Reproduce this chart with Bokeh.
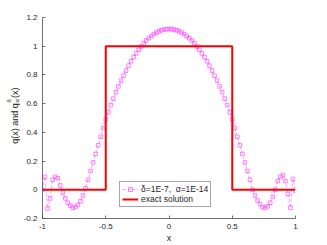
import numpy as np
from bokeh.plotting import figure
from bokeh.models import Legend, LegendItem, FixedTicker, Range1d
from bokeh.layouts import row
from bokeh.core.properties import value
from bokeh.embed import file_html
from bokeh.resources import INLINE

# ---- data ----
x_reg = [-1.00, -0.98, -0.96, -0.94, -0.92, -0.90, -0.88, -0.86, -0.84, -0.82,
         -0.80, -0.78, -0.76, -0.74, -0.72, -0.70, -0.68, -0.66, -0.64, -0.62,
         -0.60, -0.58, -0.56, -0.54, -0.52, -0.50, -0.48, -0.46, -0.44, -0.42,
         -0.40, -0.38, -0.36, -0.34, -0.32, -0.30, -0.28, -0.26, -0.24, -0.22,
         -0.20, -0.18, -0.16, -0.14, -0.12, -0.10, -0.08, -0.06, -0.04, -0.02,
         0.00, 0.02, 0.04, 0.06, 0.08, 0.10, 0.12, 0.14, 0.16, 0.18,
         0.20, 0.22, 0.24, 0.26, 0.28, 0.30, 0.32, 0.34, 0.36, 0.38,
         0.40, 0.42, 0.44, 0.46, 0.48, 0.50, 0.52, 0.54, 0.56, 0.58,
         0.60, 0.62, 0.64, 0.66, 0.68, 0.70, 0.72, 0.74, 0.76, 0.78,
         0.80, 0.82, 0.84, 0.86, 0.88, 0.90, 0.92, 0.94, 0.96, 0.98, 1.00]
y_reg = [0.00, 0.09, -0.13, -0.06, 0.07, 0.09, 0.08, 0.03, -0.02, -0.06,
         -0.09, -0.11, -0.125, -0.12, -0.105, -0.08, -0.04, 0.01, 0.07, 0.13,
         0.19, 0.25, 0.31, 0.37, 0.43, 0.49, 0.54, 0.59, 0.635, 0.68,
         0.72, 0.76, 0.795, 0.83, 0.865, 0.895, 0.925, 0.95, 0.975, 0.998,
         1.02, 1.04, 1.056, 1.071, 1.084, 1.095, 1.104, 1.111, 1.116, 1.119,
         1.12, 1.119, 1.116, 1.111, 1.104, 1.095, 1.084, 1.071, 1.056, 1.04,
         1.02, 0.998, 0.975, 0.95, 0.925, 0.895, 0.865, 0.83, 0.795, 0.76,
         0.72, 0.68, 0.635, 0.59, 0.54, 0.49, 0.43, 0.37, 0.31, 0.25,
         0.19, 0.13, 0.07, 0.00, -0.04, -0.075, -0.10, -0.12, -0.126, -0.115,
         -0.09, -0.05, 0.00, 0.06, 0.09, 0.10, 0.06, -0.03, -0.125, 0.075, -0.01]

x_exact = [-1.0, -0.5, -0.5, 0.5, 0.5, 1.0]
y_exact = [0.0, 0.0, 1.0, 1.0, 0.0, 0.0]

x_ticks = [-1, -0.5, 0, 0.5, 1]
x_tick_labels = ["-1", "-0.5", "0", "0.5", "1"]
y_ticks = [-0.2, 0, 0.2, 0.4, 0.6, 0.8, 1, 1.2]
y_tick_labels = ["-0.2", "0", "0.2", "0.4", "0.6", "0.8", "1", "1.2"]

reg_label = "\u03b4=1E-7,  \u03b1=1E-14"
exact_label = "exact solution"
x_label = "x"
# y label pieces: q(x) and q_alpha^delta(x)
ylab_head = ["q(x) and q"]
ylab_tail = ["(x)"]
ylab_sup = ["\u03b4"]
ylab_sub = ["\u03b1"]

FONT = "Liberation Sans"
TXT = "#262626"
LEFT_W = 20

# ---- narrow panel holding the composed y-axis label ----
lab = figure(width=LEFT_W, height=245, x_range=Range1d(0, LEFT_W), y_range=Range1d(245, 0),
             output_backend="svg", toolbar_location=None, title=None,
             min_border=0, min_border_left=0, min_border_right=0,
             min_border_top=0, min_border_bottom=0)
lab.axis.visible = False
lab.grid.visible = False
lab.outline_line_color = None
lab.background_fill_color = "white"
lab.border_fill_color = "white"
tk = dict(angle=np.pi / 2, text_font=value(FONT), text_color=TXT, text_baseline="middle")
lab.text(x=[14.0], y=[104.5], text=ylab_head, text_font_size="9px", text_align="right", **tk)
lab.text(x=[8.3], y=[103.5], text=ylab_sup, text_font_size="6px", text_align="left", **tk)
lab.text(x=[16.2], y=[103.5], text=ylab_sub, text_font_size="6px", text_align="left", **tk)
lab.text(x=[14.0], y=[98], text=ylab_tail, text_font_size="9px", text_align="left", **tk)

# ---- main plot ----
p = figure(width=327 - LEFT_W, height=245, x_range=(-1, 1), y_range=(-0.2, 1.2),
           output_backend="svg", toolbar_location=None, title=None,
           min_border_left=42 - LEFT_W, min_border_right=32, min_border_top=17,
           min_border_bottom=27)
p.outline_line_color = None
p.grid.visible = False
p.background_fill_color = "white"
p.border_fill_color = "white"

for ax in (p.xaxis[0], p.yaxis[0]):
    ax.axis_line_color = "#4d4d4d"
    ax.axis_line_width = 0.8
    ax.major_tick_line_color = "#4d4d4d"
    ax.major_tick_line_width = 0.8
    ax.major_tick_in = 3
    ax.major_tick_out = 0
    ax.minor_tick_line_color = None
    ax.major_label_text_font = FONT
    ax.major_label_text_font_size = "8px"
    ax.major_label_text_color = TXT
    ax.major_label_standoff = 5

p.xaxis[0].ticker = FixedTicker(ticks=x_ticks)
p.xaxis[0].major_label_overrides = {float(t): l for t, l in zip(x_ticks, x_tick_labels)}
p.yaxis[0].ticker = FixedTicker(ticks=y_ticks)
p.yaxis[0].major_label_overrides = {float(t): l for t, l in zip(y_ticks, y_tick_labels)}
p.xaxis[0].axis_label = x_label
p.xaxis[0].axis_label_text_font = FONT
p.xaxis[0].axis_label_text_font_size = "9px"
p.xaxis[0].axis_label_text_font_style = "normal"
p.xaxis[0].axis_label_text_color = TXT
p.xaxis[0].axis_label_standoff = 1

MAG = "#ff33ff"
r_line = p.line(x_reg, y_reg, line_color=MAG, line_width=0.7, line_dash="3 2", line_alpha=0.7)
r_pts = p.scatter(x_reg, y_reg, marker="square", size=3.6, line_color=MAG, line_width=0.8,
                  fill_color=None, line_alpha=0.75)
r_exact = p.line(x_exact, y_exact, line_color="#ff0000", line_width=2)

legend = Legend(items=[LegendItem(label=reg_label, renderers=[r_line, r_pts]),
                       LegendItem(label=exact_label, renderers=[r_exact])],
                location=(77, 11))
legend.label_text_font = FONT
legend.label_text_font_size = "8.5px"
legend.label_text_color = TXT
legend.glyph_width = 16
legend.glyph_height = 10
legend.label_height = 10
legend.label_standoff = 3
legend.padding = 2
legend.spacing = 0
legend.margin = 0
legend.border_line_color = "#4d4d4d"
legend.border_line_width = 0.8
legend.background_fill_alpha = 1.0
p.add_layout(legend, "center")

layout = row(lab, p, spacing=0)
open("out.html", "w").write(file_html(layout, INLINE))
